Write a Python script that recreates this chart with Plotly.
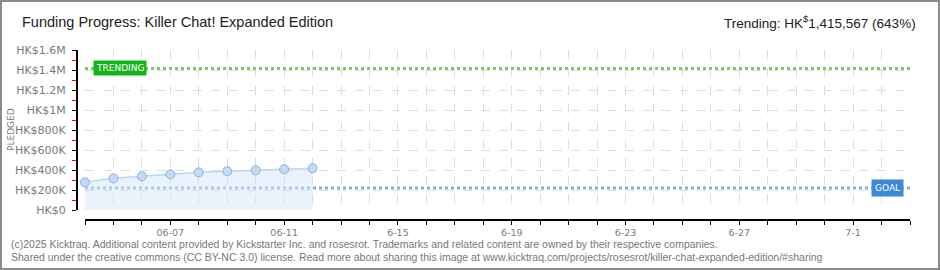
import plotly.graph_objects as go

# ---- data ----
dates = ["2025-06-04", "2025-06-05", "2025-06-06", "2025-06-07", "2025-06-08",
         "2025-06-09", "2025-06-10", "2025-06-11", "2025-06-12"]
pledged = [277000, 317000, 337000, 357000, 377000, 387000, 397000, 407000, 417000]
goal = 220150
trending = 1415567
trending_pct = 643

x_range = ["2025-06-04", "2025-07-03"]
x_tick_dates = ["2025-06-07", "2025-06-11", "2025-06-15", "2025-06-19",
                "2025-06-23", "2025-06-27", "2025-07-01"]
x_tick_labels = ["06-07", "06-11", "6-15", "6-19", "6-23", "6-27", "7-1"]
y_tick_vals = [0, 200000, 400000, 600000, 800000, 1000000, 1200000, 1400000, 1600000]
y_tick_labels = ["HK$0", "HK$200K", "HK$400K", "HK$600K", "HK$800K",
                 "HK$1M", "HK$1.2M", "HK$1.4M", "HK$1.6M"]

# ---- layout geometry (pixels) ----
W, H = 940, 270
L, R, T, B = 77, 30, 50, 50
PW = W - L - R
PH = H - T - B


def px(xp):
    return (xp - L) / PW


def py(yp):
    return (H - B - yp) / PH


GRAY = "#7a7a7a"
fig = go.Figure()

# goal & trending lines
fig.add_trace(go.Scatter(x=x_range, y=[trending, trending], mode="lines",
                         line=dict(color="#79cc66", width=3, dash="dot"),
                         hoverinfo="skip", showlegend=False))
fig.add_trace(go.Scatter(x=x_range, y=[goal, goal], mode="lines",
                         line=dict(color="#86aedc", width=3, dash="dot"),
                         hoverinfo="skip", showlegend=False))

# pledged area
fig.add_trace(go.Scatter(x=dates, y=pledged, mode="lines+markers",
                         fill="tozeroy", fillcolor="rgba(214,230,250,0.5)",
                         line=dict(color="#bcd6f2", width=1.5),
                         marker=dict(size=9, color="#c2dbf6",
                                     line=dict(color="#8eaedb", width=1)),
                         cliponaxis=False, showlegend=False))

fig.update_layout(
    width=W, height=H,
    margin=dict(l=L, r=R, t=T, b=B, autoexpand=False),
    paper_bgcolor="white", plot_bgcolor="white",
    font=dict(family="DejaVu Sans", color=GRAY),
    xaxis=dict(
        type="date", range=x_range, domain=[px(85), 1],
        anchor="free", position=0,
        tickvals=x_tick_dates, ticktext=x_tick_labels,
        ticks="outside", ticklen=4, tickcolor="black", tickwidth=1,
        showline=True, linecolor="black", linewidth=2,
        showgrid=True, gridcolor="#dddddd", griddash="dash", gridwidth=1,
        tickfont=dict(size=9.5, color=GRAY, family="DejaVu Sans"),
        ticklabelstandoff=0,
        minor=dict(dtick=86400000, tick0="2025-06-04", ticks="outside", ticklen=4,
                   tickcolor="black", showgrid=True, gridcolor="#dddddd",
                   griddash="dash"),
        zeroline=False, automargin=False, fixedrange=True,
    ),
    yaxis=dict(
        range=[0, 1600000], domain=[py(210), 1],
        anchor="free", position=0,
        tickvals=y_tick_vals, ticktext=y_tick_labels,
        ticks="outside", ticklen=4, tickcolor="black", tickwidth=1,
        showline=True, linecolor="black", linewidth=2,
        showgrid=True, gridcolor="#dddddd", griddash="dash", gridwidth=1,
        tickfont=dict(size=11, color=GRAY, family="DejaVu Sans"),
        ticklabelstandoff=4,
        minor=dict(dtick=100000, ticks="outside", ticklen=4, tickcolor="red",
                   showgrid=False),
        zeroline=False, automargin=False, fixedrange=True,
    ),
)

annotations = [
    dict(x=px(20), y=py(22), xref="paper", yref="paper", xanchor="left", yanchor="middle",
         text="Funding Progress: Killer Chat! Expanded Edition", showarrow=False,
         font=dict(size=14.5, color="#222222", family="Liberation Sans")),
    dict(x=px(918), y=py(22), xref="paper", yref="paper", xanchor="right", yanchor="middle",
         text=f"Trending: HK<sup>$</sup>{trending:,} ({trending_pct}%)", showarrow=False,
         font=dict(size=13.5, color="#222222", family="Liberation Sans")),
    dict(x=px(11), y=py(130), xref="paper", yref="paper", xanchor="center", yanchor="middle",
         text="PLEDGED", textangle=-90, showarrow=False,
         font=dict(size=9, color=GRAY, family="DejaVu Sans")),
    dict(x=px(93), y=trending, xref="paper", yref="y", xanchor="left", yanchor="middle",
         text="TRENDING", showarrow=False, bgcolor="#17b31a", borderpad=2,
         font=dict(size=9, color="white", family="DejaVu Sans")),
    dict(x=px(904), y=goal, xref="paper", yref="y", xanchor="right", yanchor="middle",
         text="GOAL", showarrow=False, bgcolor="#3b89d9", borderpad=3,
         font=dict(size=9, color="white", family="DejaVu Sans")),
    dict(x=px(10), y=py(244), xref="paper", yref="paper", xanchor="left", yanchor="middle",
         text="(c)2025 Kicktraq. Additional content provided by Kickstarter Inc. and rosesrot. "
              "Trademarks and related content are owned by their respective companies.",
         showarrow=False, borderpad=0,
         font=dict(size=10.5, color="#777777", family="Liberation Sans")),
    dict(x=px(10), y=py(257), xref="paper", yref="paper", xanchor="left", yanchor="middle",
         text="Shared under the creative commons (CC BY-NC 3.0) license. Read more about sharing "
              "this image at www.kicktraq.com/projects/rosesrot/killer-chat-expanded-edition/#sharing",
         showarrow=False, borderpad=0,
         font=dict(size=10.5, color="#777777", family="Liberation Sans")),
]
fig.update_layout(annotations=annotations)

fig.add_shape(type="rect", xref="paper", yref="paper",
              x0=px(1), x1=px(939), y0=py(1), y1=py(269),
              line=dict(color="#8a8a8a", width=2), fillcolor="rgba(0,0,0,0)", layer="above")

fig.write_html("out.html")
